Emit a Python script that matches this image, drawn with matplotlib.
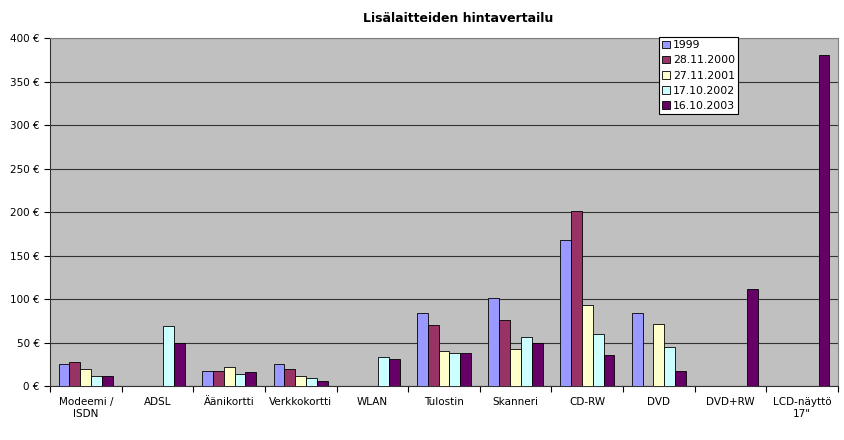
import matplotlib
matplotlib.use("Agg")
import matplotlib.pyplot as plt
import numpy as np
from matplotlib.ticker import FixedLocator, FuncFormatter
from matplotlib.patches import Patch

categories = ["Modeemi /\nISDN", "ADSL", "Äänikortti", "Verkkokortti", "WLAN",
              "Tulostin", "Skanneri", "CD-RW", "DVD", "DVD+RW", "LCD-näyttö\n17\""]
series_names = ["1999", "28.11.2000", "27.11.2001", "17.10.2002", "16.10.2003"]
v1999 = [25, 0, 17, 25, 0, 84, 101, 168, 84, 0, 0]
v2000 = [28, 0, 17, 19, 0, 70, 76, 201, 0, 0, 0]
v2001 = [20, 0, 22, 12, 0, 40, 42, 93, 71, 0, 0]
v2002 = [12, 69, 14, 9, 33, 38, 56, 60, 45, 0, 0]
v2003 = [12, 50, 16, 6, 31, 38, 49, 36, 17, 112, 380]
series = [v1999, v2000, v2001, v2002, v2003]
colors = ["#9999FF", "#993366", "#FFFFCC", "#CCFFFF", "#660066"]

plt.rcParams['font.family'] = ['DejaVu Sans']
fig = plt.figure(figsize=(8.45, 4.4), dpi=100)
ax = fig.add_axes([50/845, 1-386/440, 788/845, 348/440])
ax.set_facecolor("#C0C0C0")

x = np.arange(len(categories))
w = 0.152
for i, (vals, c, name) in enumerate(zip(series, colors, series_names)):
    vals = np.array(vals, dtype=float)
    mask = vals > 0
    ax.bar(x[mask] + (i - 2) * w, vals[mask], width=w, color=c,
           edgecolor="black", linewidth=0.6, zorder=3)

ax.set_xlim(-0.5, len(categories) - 0.5)
ax.set_ylim(0, 400)
ax.set_yticks(np.arange(0, 401, 50))
ax.yaxis.set_major_formatter(FuncFormatter(lambda v, p: f"{int(v)} €"))
ax.grid(axis="y", color="#333333", linewidth=0.8, zorder=1)
ax.set_xticks(x)
ax.set_xticklabels(categories, fontsize=7.5)
ax.xaxis.set_minor_locator(FixedLocator(np.arange(-0.5, len(categories), 1)))
ax.tick_params(axis="x", which="major", length=0, pad=8)
ax.tick_params(axis="x", which="minor", length=4, width=0.8, direction="out")
ax.tick_params(axis="y", length=4, width=0.8, labelsize=7.5, direction="out")
for s in ["top", "right"]:
    ax.spines[s].set_color("#808080")
    ax.spines[s].set_linewidth(0.8)
ax.spines["left"].set_color("#333333")
ax.spines["bottom"].set_color("#333333")

fig.text(458/845, 1 - 18/440, "Lisälaitteiden hintavertailu", ha="center", va="center",
         fontsize=9, fontweight="bold")

handles = [Patch(facecolor=c, edgecolor="black", linewidth=0.6, label=n)
           for c, n in zip(colors, series_names)]
leg = fig.legend(handles=handles, loc="upper left",
                 bbox_to_anchor=(659/845, 1 - 37/440), fontsize=7.8,
                 handlelength=0.7, handleheight=0.7, handletextpad=0.3,
                 labelspacing=0.48, borderpad=0.3, borderaxespad=0,
                 frameon=True, fancybox=False)
leg.get_frame().set_edgecolor("black")
leg.get_frame().set_linewidth(0.8)
leg.get_frame().set_facecolor("white")
leg.get_frame().set_alpha(1)

fig.savefig("out.png", dpi=100, facecolor="white")
